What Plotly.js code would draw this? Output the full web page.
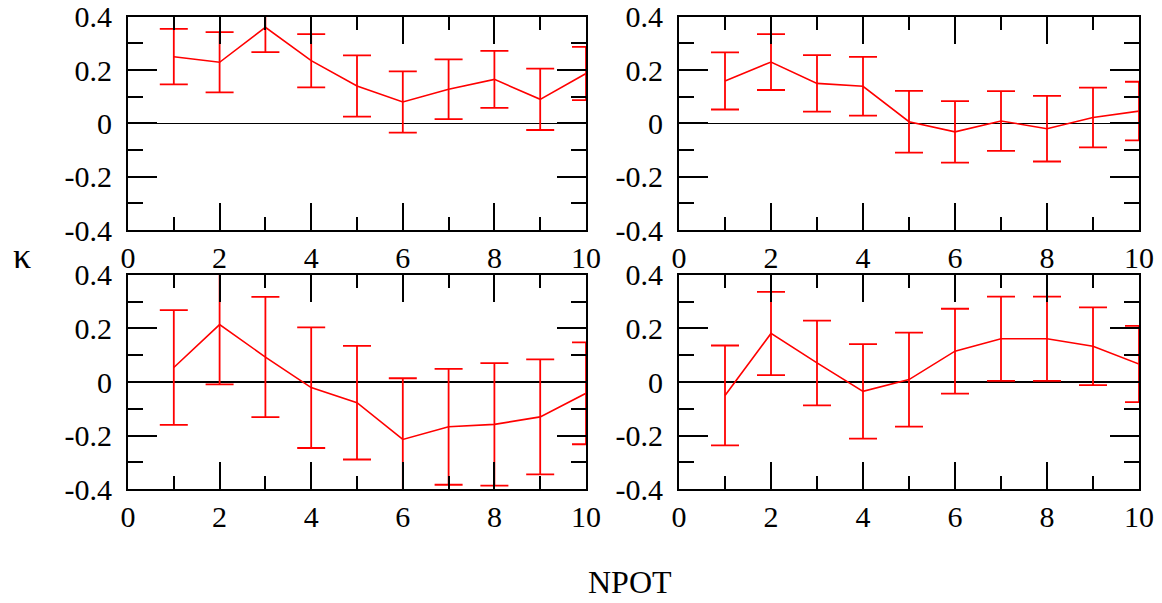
<!DOCTYPE html>
<html>
<head>
<meta charset="utf-8">
<script src="https://cdn.plot.ly/plotly-3.0.1.min.js"></script>
<style>html,body{margin:0;padding:0;background:#fff;}#plot{width:1162px;height:603px;}</style>
</head>
<body>
<div id="plot"></div>
<script>
// NPOT values
var npot = [1, 2, 3, 4, 5, 6, 7, 8, 9, 10];
// panel 1 (top left)
var kappa1 = [0.25, 0.229, 0.36, 0.235, 0.14, 0.08, 0.128, 0.165, 0.09, 0.187];
var err1   = [0.104, 0.113, 0.093, 0.1, 0.115, 0.115, 0.112, 0.107, 0.115, 0.1];
// panel 2 (top right)
var kappa2 = [0.159, 0.23, 0.15, 0.139, 0.006, -0.032, 0.009, -0.02, 0.022, 0.046];
var err2   = [0.107, 0.105, 0.106, 0.11, 0.116, 0.115, 0.112, 0.123, 0.112, 0.11];
// panel 3 (bottom left)
var kappa3 = [0.054, 0.214, 0.093, -0.021, -0.077, -0.214, -0.167, -0.158, -0.13, -0.042];
var err3   = [0.214, 0.223, 0.224, 0.225, 0.212, 0.228, 0.216, 0.228, 0.214, 0.19];
// panel 4 (bottom right)
var kappa4 = [-0.05, 0.181, 0.071, -0.035, 0.009, 0.115, 0.161, 0.161, 0.133, 0.067];
var err4   = [0.186, 0.155, 0.158, 0.176, 0.175, 0.158, 0.157, 0.157, 0.145, 0.142];

// tick labels
var xTickVals = [0, 2, 4, 6, 8, 10];
var xTickText = ["0", "2", "4", "6", "8", "10"];
var yTickVals = [-0.4, -0.2, 0, 0.2, 0.4];
var yTickText = ["-0.4", "-0.2", "0", "0.2", "0.4"];

var series = [[kappa1, err1], [kappa2, err2], [kappa3, err3], [kappa4, err4]];
var axIds = ["", "2", "3", "4"];

var traces = series.map(function (s, i) {
  return {
    type: "scatter", mode: "lines",
    x: npot, y: s[0],
    xaxis: "x" + axIds[i], yaxis: "y" + axIds[i],
    line: {color: "#ff0000", width: 1.6},
    error_y: {type: "data", array: s[1], visible: true, color: "#ff0000", thickness: 1.8, width: 14},
    showlegend: false, hoverinfo: "skip"
  };
});

var SERIF = "Liberation Serif, Times New Roman, serif";
function tf() { return {family: SERIF, size: 30, color: "#000"}; }
function xAxis(domain, anchor) {
  return {
    domain: domain, anchor: anchor, range: [0, 10], layer: "above traces",
    tickmode: "array", tickvals: xTickVals, ticktext: xTickText,
    ticks: "inside", ticklen: 27, tickwidth: 2, tickcolor: "#000",
    minor: {ticks: "inside", dtick: 1, ticklen: 13, tickwidth: 2, tickcolor: "#000"},
    showline: true, linecolor: "#000", linewidth: 2, mirror: "ticks",
    showgrid: false, zeroline: false, tickfont: tf(), ticklabelstandoff: 0
  };
}
function yAxis(domain, anchor) {
  return {
    domain: domain, anchor: anchor, range: [-0.4, 0.4], layer: "above traces",
    tickmode: "array", tickvals: yTickVals, ticktext: yTickText,
    ticks: "inside", ticklen: 29, tickwidth: 2, tickcolor: "#000",
    minor: {ticks: "inside", dtick: 0.1, ticklen: 15, tickwidth: 2, tickcolor: "#000"},
    showline: true, linecolor: "#000", linewidth: 2, mirror: "ticks",
    showgrid: false, zeroline: true, zerolinecolor: "#000", zerolinewidth: 1.5,
    tickfont: tf(), ticklabelstandoff: 8
  };
}

var dxL = [128 / 1162, 586 / 1162];
var dxR = [679 / 1162, 1139 / 1162];
var dyT = [(603 - 230) / 603, (603 - 16.7) / 603];
var dyB = [(603 - 489.3) / 603, (603 - 274.7) / 603];

var layout = {
  width: 1162, height: 603,
  margin: {l: 0, r: 0, t: 0, b: 0},
  paper_bgcolor: "#fff", plot_bgcolor: "#fff",
  font: {family: SERIF, size: 30, color: "#000"},
  xaxis: xAxis(dxL, "y"), yaxis: yAxis(dyT, "x"),
  xaxis2: xAxis(dxR, "y2"), yaxis2: yAxis(dyT, "x2"),
  xaxis3: xAxis(dxL, "y3"), yaxis3: yAxis(dyB, "x3"),
  xaxis4: xAxis(dxR, "y4"), yaxis4: yAxis(dyB, "x4"),
  annotations: [
    {text: "κ", xref: "paper", yref: "paper", x: 22 / 1162, y: 1 - 256 / 603,
     showarrow: false, xanchor: "center", yanchor: "middle",
     font: {family: SERIF, size: 36, color: "#000"}},
    {text: "NPOT", xref: "paper", yref: "paper", x: 630 / 1162, y: 1 - 582 / 603,
     showarrow: false, xanchor: "center", yanchor: "middle",
     font: {family: SERIF, size: 32, color: "#000"}}
  ]
};

Plotly.newPlot("plot", traces, layout, {displayModeBar: false, staticPlot: true});
</script>
</body>
</html>
